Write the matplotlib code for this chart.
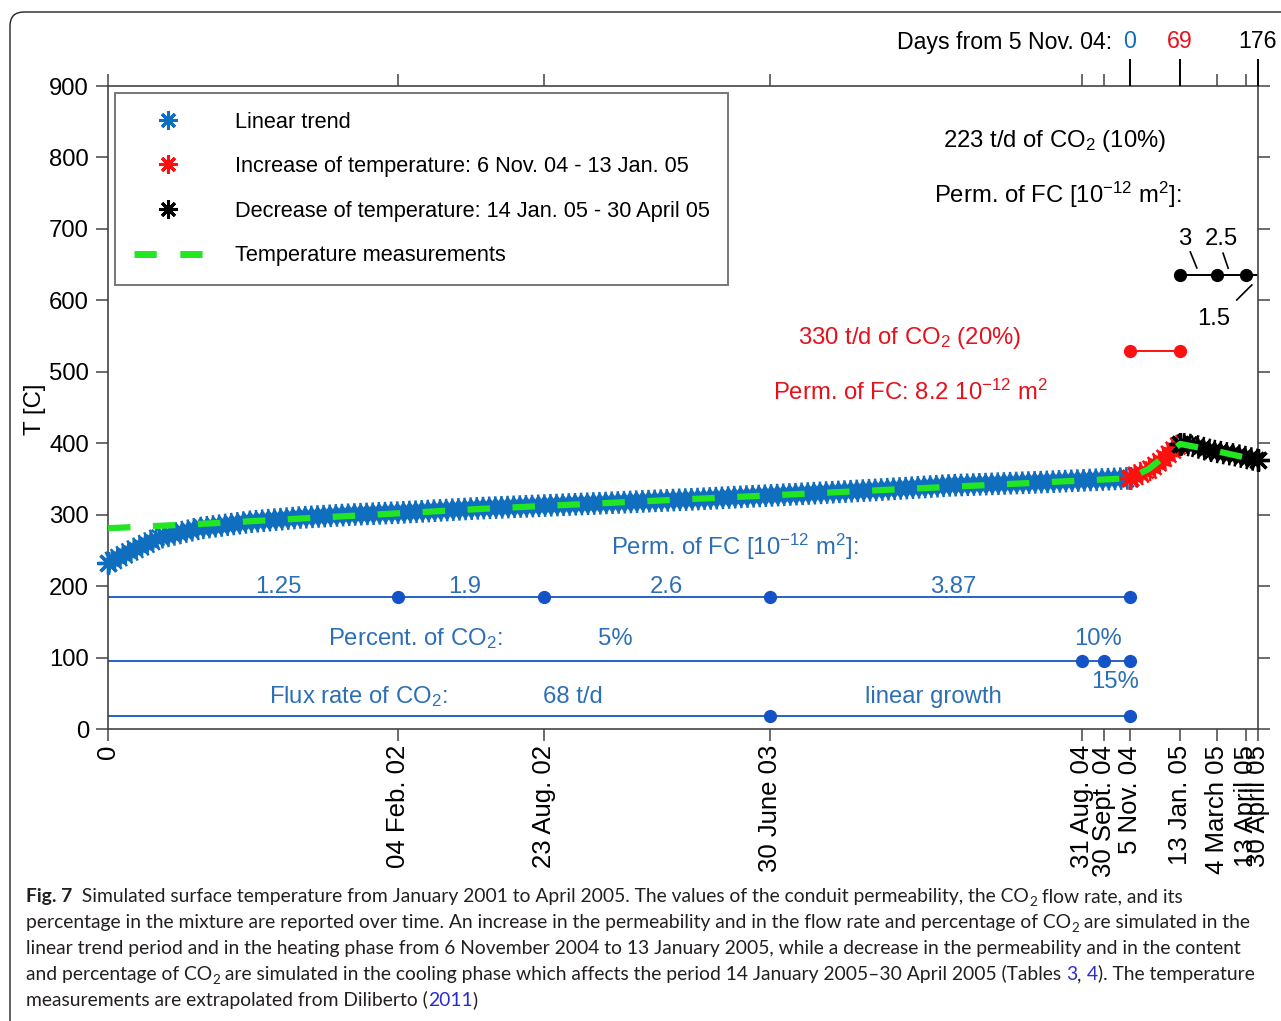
import numpy as np
import matplotlib
matplotlib.use('Agg')
import matplotlib.pyplot as plt
from matplotlib import patheffects as pe
from matplotlib.lines import Line2D
from matplotlib.patches import FancyBboxPatch
from matplotlib.transforms import IdentityTransform

plt.rcParams['font.family'] = ['Liberation Sans', 'DejaVu Sans']
plt.rcParams['mathtext.fontset'] = 'custom'
plt.rcParams['mathtext.rm'] = 'Liberation Sans'
plt.rcParams['mathtext.it'] = 'Liberation Sans:italic'
plt.rcParams['mathtext.bf'] = 'Liberation Sans:bold'
plt.rcParams['mathtext.default'] = 'regular'

# ---------------- data (days since 1 Jan 2001) ----------------
date_ticks = [0, 399, 599, 910, 1338, 1368, 1404, 1473, 1523, 1563, 1580]
date_labels = ['0', '04 Feb. 02', '23 Aug. 02', '30 June 03', '31 Aug. 04',
               '30 Sept. 04', '5 Nov. 04', '13 Jan. 05', '4 March 05',
               '13 April 05', '30 April 05']
top_major = [1404, 1473, 1580]
top_major_labels = ['0', '69', '176']
top_minor = [0, 399, 599, 910, 1338, 1368, 1523, 1563]

lin_days = [0, 34, 71, 126, 195, 264, 332, 401, 511, 676, 813, 951, 1061, 1157, 1294, 1404]
lin_T = [232, 250, 268, 281, 290, 296, 300, 303, 309, 316, 322, 329, 335, 341, 346, 351]
inc_days = [1404, 1430, 1448, 1473]
inc_T = [351, 362, 376, 399]
dec_days = [1473, 1490, 1514, 1551, 1580]
dec_T = [399, 397, 390, 383, 376]
meas_days = [0, 126, 511, 951, 1404, 1430, 1473, 1514, 1580]
meas_T = [281, 287, 308, 329, 351, 364, 399, 391, 376]

perm_days = [0, 399, 599, 910, 1404]
perm_level = 185
perm_labels = ['1.25', '1.9', '2.6', '3.87']
pct_days = [0, 1338, 1368, 1404]
pct_level = 95
flux_days = [0, 910, 1404]
flux_level = 18
red_days = [1404, 1473]
red_level = 529
blk_days = [1473, 1523, 1563, 1580]
blk_level = 635

# ---------------- colours ----------------
C_BLUE = '#0f6ebe'
C_RED = '#ff1010'
C_BLACK = '#000000'
C_GREEN = '#22e622'
C_PLINE = '#2563c4'
C_PDOT = '#1452c8'
C_PTXT = '#2c6fb6'
C_SPINE = '#444444'

W, H = 1281, 1021
fig = plt.figure(figsize=(W / 100, H / 100), dpi=100)
ax = fig.add_axes([108 / W, 1 - 729 / H, 1150 / W, 643 / H])
ax.set_xlim(0, 1580)
ax.set_ylim(0, 900)

for s in ax.spines.values():
    s.set_color(C_SPINE)
    s.set_linewidth(1.2)

ax.set_yticks(np.arange(0, 901, 100))
ax.tick_params(axis='y', direction='out', length=8.6, width=1.1, color=C_SPINE,
               labelsize=17.2, pad=5, right=True, labelright=False)
ax.set_xticks(date_ticks)
ax.set_xticklabels(date_labels, rotation=90, ha='center', va='top')
ax.tick_params(axis='x', direction='out', length=8.6, width=1.1, color=C_SPINE,
               labelsize=18.5, pad=3, top=False)

# top axis
ax2 = ax.twiny()
ax2.set_xlim(0, 1580)
for s in ax2.spines.values():
    s.set_visible(False)
ax2.set_xticks(top_major)
ax2.set_xticklabels(top_major_labels)
ax2.set_xticks(top_minor, minor=True)
ax2.tick_params(axis='x', which='major', direction='out', length=19.5, width=1.4,
                labelsize=16.7, pad=4)
ax2.tick_params(axis='x', which='minor', direction='out', length=8.6, width=1.1,
                color=C_SPINE)
for t, c in zip(ax2.xaxis.get_major_ticks(), [C_BLUE, '#e8101a', '#000000']):
    t.tick2line.set_color(c)
    t.label2.set_color(c)

fig.text(1112 / W, 1 - 49 / H, 'Days from 5 Nov. 04:', ha='right', va='baseline',
         fontsize=16.7)
fig.text(35 / W, 1 - 409 / H, 'T [C]', rotation=90, ha='center', va='center',
         fontsize=17.3)

# ---------------- simulated series (asterisk band) ----------------
def band(x, y, color, z, ends):
    effects = [pe.Normal()]
    for ang in (90, -90, 55, -55, 125, -125):
        effects.append(pe.TickedStroke(angle=ang, spacing=4.4, length=1.85,
                                       linewidth=1.8))
    ax.plot(x, y, color=color, lw=8, solid_capstyle='butt',
            solid_joinstyle='round', zorder=z, path_effects=effects, clip_on=False)
    ax.plot([x[i] for i in ends], [y[i] for i in ends], ls='none',
            marker=(8, 2, 0), ms=16, mew=2.4, color=color, zorder=z, clip_on=False)

band(lin_days, lin_T, C_BLUE, 3, [0, -1])
band(inc_days, inc_T, C_RED, 3.1, [0])
band(dec_days, dec_T, C_BLACK, 3.2, [0, -1])

ax.plot(meas_days, meas_T, color=C_GREEN, lw=4.5, dashes=(3.6, 3.6),
        dash_capstyle='butt', zorder=4)

# ---------------- parameter lines ----------------
ax.plot([perm_days[0], perm_days[-1]], [perm_level] * 2, color=C_PLINE, lw=1.4, zorder=2)
ax.plot(perm_days[1:], [perm_level] * (len(perm_days) - 1), ls='none', marker='o',
        ms=8.5, color=C_PDOT, zorder=2)
ax.plot([pct_days[0], pct_days[-1]], [pct_level] * 2, color=C_PLINE, lw=1.4, zorder=2)
ax.plot(pct_days[1:], [pct_level] * (len(pct_days) - 1), ls='none', marker='o',
        ms=8.5, color=C_PDOT, zorder=2)
ax.plot([flux_days[0], flux_days[-1]], [flux_level] * 2, color=C_PLINE, lw=1.4, zorder=2)
ax.plot(flux_days[1:], [flux_level] * (len(flux_days) - 1), ls='none', marker='o',
        ms=8.5, color=C_PDOT, zorder=2)
ax.plot(red_days, [red_level] * len(red_days), color=C_RED, lw=1.4, marker='o',
        ms=8.5, zorder=2)
ax.plot([blk_days[0], blk_days[-1]], [blk_level] * 2, color='black', lw=1.4, zorder=2)
ax.plot(blk_days[:-1], [blk_level] * (len(blk_days) - 1), ls='none', marker='o',
        ms=8.5, color='black', zorder=2)

FS = 17.2
ax.text(861, 243.5, 'Perm. of FC [10$^{-12}$ m$^2$]:', color=C_PTXT, fontsize=FS,
        ha='center', va='baseline')
for lab, xc in zip(perm_labels, [233.6, 490.5, 766.6, 1161]):
    ax.text(xc, 190.8, lab, color=C_PTXT, fontsize=FS, ha='center', va='baseline')
ax.text(421.8, 117.6, 'Percent. of CO$_2$:', color=C_PTXT, fontsize=FS,
        ha='center', va='baseline')
ax.text(696.6, 117.6, '5%', color=C_PTXT, fontsize=FS, ha='center', va='baseline')
ax.text(1360, 117.6, '10%', color=C_PTXT, fontsize=FS, ha='center', va='baseline')
ax.text(1383.5, 57.4, '15%', color=C_PTXT, fontsize=FS, ha='center', va='baseline')
ax.text(343.5, 36.8, 'Flux rate of CO$_2$:', color=C_PTXT, fontsize=FS,
        ha='center', va='baseline')
ax.text(638.9, 36.8, '68 t/d', color=C_PTXT, fontsize=FS, ha='center', va='baseline')
ax.text(1133.5, 36.8, 'linear growth', color=C_PTXT, fontsize=FS, ha='center',
        va='baseline')

ax.text(1101.9, 538.5, '330 t/d of CO$_2$ (20%)', color='#e8101a', fontsize=FS,
        ha='center', va='baseline')
ax.text(1101.9, 460.5, 'Perm. of FC: 8.2 10$^{-12}$ m$^2$', color='#e8101a',
        fontsize=FS, ha='center', va='baseline')

ax.text(1301, 815, '223 t/d of CO$_2$ (10%)', color='black', fontsize=FS,
        ha='center', va='baseline')
ax.text(1305, 735.9, 'Perm. of FC [10$^{-12}$ m$^2$]:', color='black', fontsize=FS,
        ha='center', va='baseline')
ax.text(1479.7, 677.5, '3', color='black', fontsize=FS, ha='center', va='baseline')
ax.text(1529.8, 677.5, '2.5', color='black', fontsize=FS, ha='center', va='baseline')
ax.text(1519.5, 565.5, '1.5', color='black', fontsize=FS, ha='center', va='baseline')
ax.plot([1487, 1496], [667.7, 645.3], color='black', lw=1.2)
ax.plot([1532, 1539], [666, 645], color='black', lw=1.2)
ax.plot([1571.5, 1550.8], [621.5, 600.5], color='black', lw=1.2)

# ---------------- legend ----------------
handles = [
    Line2D([], [], ls='none', marker=(8, 2, 0), ms=13, mew=2.2, color=C_BLUE),
    Line2D([], [], ls='none', marker=(8, 2, 0), ms=13, mew=2.2, color=C_RED),
    Line2D([], [], ls='none', marker=(8, 2, 0), ms=13, mew=2.2, color=C_BLACK),
    Line2D([], [], color=C_GREEN, lw=5, dashes=(3.2, 3.4), dash_capstyle='butt'),
]
labels = ['Linear trend', 'Increase of temperature: 6 Nov. 04 - 13 Jan. 05',
          'Decrease of temperature: 14 Jan. 05 - 30 April 05',
          'Temperature measurements']
LFS = 15.7
leg = ax.legend(handles, labels, loc='upper left',
                bbox_to_anchor=(7 / 1150, (729 - 93) / 643), fontsize=LFS,
                frameon=True, fancybox=False, edgecolor='#555555',
                borderpad=0.85, labelspacing=1.08, handlelength=3.2,
                handletextpad=1.45, borderaxespad=0)
leg.get_frame().set_linewidth(1.4)
leg.set_zorder(6)

# ---------------- frame ----------------
frame = FancyBboxPatch((10, -40), 1400, H - 12 + 40,
                       boxstyle='round,pad=0,rounding_size=14',
                       transform=IdentityTransform(), fill=False,
                       ec='#222222', lw=1.0)
fig.add_artist(frame)

# ---------------- caption ----------------
CAP = '#231f20'
LINK = '#2b2bd6'
cap_lines = [
    [('Fig. 7', 'b'), ('  Simulated surface temperature from January 2001 to April 2005. '
                       'The values of the conduit permeability, the CO', 'n'),
     ('2', 's'), (' flow rate, and its', 'n')],
    [('percentage in the mixture are reported over time. An increase in the '
      'permeability and in the flow rate and percentage of CO', 'n'), ('2', 's'),
     (' are simulated in the', 'n')],
    [('linear trend period and in the heating phase from 6 November 2004 to 13 '
      'January 2005, while a decrease in the permeability and in the content', 'n')],
    [('and percentage of CO', 'n'), ('2', 's'),
     (' are simulated in the cooling phase which affects the period 14 January '
      '2005\u201330 April 2005 (Tables ', 'n'), ('3', 'l'), (', ', 'n'), ('4', 'l'),
     ('). The temperature', 'n')],
    [('measurements are extrapolated from Diliberto (', 'n'), ('2011', 'l'), (')', 'n')],
]
baselines = [902, 928, 954, 980, 1006]
target_widths = [1152, 1232, 1219, 1222]

renderer = fig.canvas.get_renderer()


def piece_width(txt, size, weight):
    a = fig.text(0, 0, 'X' + txt + 'X', fontsize=size, family='Lato', weight=weight)
    b = fig.text(0, 0, 'XX', fontsize=size, family='Lato', weight=weight)
    w = a.get_window_extent(renderer).width - b.get_window_extent(renderer).width
    a.remove()
    b.remove()
    return w


def line_width(pieces, size):
    tot = 0
    for txt, kind in pieces:
        s = size * 0.7 if kind == 's' else size
        wgt = 'bold' if kind == 'b' else 'normal'
        tot += piece_width(txt, s, wgt)
    return tot


base = 14.4
wsum = sum(line_width(cap_lines[i], base) for i in range(4))
csize = base * (sum(target_widths) / wsum)

for pieces, bl in zip(cap_lines, baselines):
    x = 26
    for txt, kind in pieces:
        s = csize * 0.7 if kind == 's' else csize
        wgt = 'bold' if kind == 'b' else 'normal'
        col = LINK if kind == 'l' else CAP
        yy = H - bl - (4 if kind == 's' else 0)
        fig.text(x, yy, txt, fontsize=s, family='Lato', weight=wgt, color=col,
                 transform=IdentityTransform(), ha='left', va='baseline')
        x += piece_width(txt, s, wgt)

fig.savefig('out.png', dpi=100)
